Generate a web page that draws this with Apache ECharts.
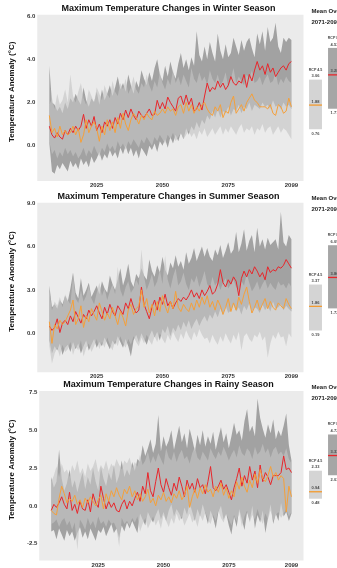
<!DOCTYPE html>
<html>
<head>
<meta charset="utf-8">
<script src="https://cdn.jsdelivr.net/npm/echarts@6/dist/echarts.min.js"></script>
<style>
  html, body { margin: 0; padding: 0; background: #ffffff; }
  #chart { width: 337px; height: 568px; }
</style>
</head>
<body>
<div id="chart"></div>
<script>
// ---- Years (x categories) ----
const years = [
  2007,2008,2009,2010,2011,2012,2013,2014,2015,2016,
  2017,2018,2019,2020,2021,2022,2023,2024,2025,2026,
  2027,2028,2029,2030,2031,2032,2033,2034,2035,2036,
  2037,2038,2039,2040,2041,2042,2043,2044,2045,2046,
  2047,2048,2049,2050,2051,2052,2053,2054,2055,2056,
  2057,2058,2059,2060,2061,2062,2063,2064,2065,2066,
  2067,2068,2069,2070,2071,2072,2073,2074,2075,2076,
  2077,2078,2079,2080,2081,2082,2083,2084,2085,2086,
  2087,2088,2089,2090,2091,2092,2093,2094,2095,2096,
  2097,2098,2099
];

// ---- Tick labels ----
const yearTicks = [2025, 2050, 2075, 2099];
const winterTicks = [0, 2, 4, 6];
const summerTicks = [0, 3, 6, 9];
const rainyTicks = [-2.5, 0, 2.5, 5, 7.5];
const rcpNames = ['RCP 4.5', 'RCP 8.5'];

// ---- Winter season ----
const winterRcp85 = [
  0.9,0.5,0.35,0.6,0.4,0.3,0.7,0.5,0.8,0.6,
  0.9,0.7,0.9,1.45,0.8,1.2,0.9,1.35,0.7,1.0,
  0.6,1.1,0.9,1.2,0.8,1.3,1.0,1.5,1.2,1.65,
  1.3,1.7,1.4,1.2,1.6,1.4,1.3,1.5,1.7,1.4,
  1.45,2.1,1.7,2.0,1.7,2.25,2.0,1.8,1.6,2.2,
  2.3,1.9,2.35,1.9,2.2,1.6,1.7,2.0,1.65,2.3,
  2.9,2.5,2.7,2.6,3.0,2.7,2.9,2.6,2.8,3.2,
  2.9,2.8,3.0,2.9,3.3,2.7,3.3,3.0,3.5,3.9,
  3.5,3.7,3.3,3.8,3.4,3.6,3.2,3.4,3.6,3.7,
  3.5,3.8,3.9
];
const winterRcp45 = [
  1.4,0.6,0.8,0.4,0.9,0.5,0.7,0.5,0.6,0.9,
  0.5,0.8,0.15,0.5,1.2,0.6,0.9,1.1,0.8,0.2,
  0.9,0.5,1.2,0.7,1.1,0.6,1.3,0.8,1.5,1.0,
  0.7,1.2,1.5,1.3,1.0,1.4,1.2,1.5,1.3,1.2,
  1.6,1.4,1.5,1.7,1.5,1.8,1.6,1.7,1.4,1.8,
  1.9,1.5,2.0,1.6,1.9,1.5,1.8,1.6,1.9,2.0,
  1.7,1.5,1.4,1.8,1.6,1.9,1.3,1.6,1.5,2.0,
  2.3,1.5,1.7,1.9,1.6,2.0,2.2,2.4,2.1,2.0,
  1.8,1.8,1.8,1.7,1.9,1.5,1.4,1.9,1.8,1.5,
  1.6,2.2,1.8
];
const winterHi85 = [
  3.7,2.0,1.9,1.6,1.8,1.5,2.0,1.7,2.2,2.0,
  2.4,2.1,1.9,2.7,2.1,1.8,2.2,2.0,2.5,1.9,
  2.6,2.1,2.4,2.8,2.3,2.7,3.2,2.6,2.9,2.5,
  3.3,2.8,2.4,3.0,2.7,3.5,3.1,2.8,3.4,3.0,
  3.6,4.0,3.3,3.0,3.7,3.2,3.9,3.4,3.1,3.8,
  4.3,3.6,4.0,3.5,4.1,3.7,5.3,4.2,3.9,4.6,
  4.0,4.8,4.3,3.9,5.2,4.4,4.0,4.7,4.1,4.3,
  5.0,4.6,4.2,4.9,4.4,4.8,5.0,4.5,4.1,5.2,
  4.7,5.3,4.4,5.5,4.8,5.0,5.7,4.6,4.3,5.0,
  4.8,5.0,4.9
];
const winterLo85 = [
  0.1,-1.2,-1.3,-0.9,-1.1,-0.8,-1.0,-1.2,-0.7,-1.0,
  -0.8,-1.1,-0.6,-0.9,-0.7,-1.0,-0.5,-0.8,-0.6,-0.3,
  -0.7,-0.4,-0.6,-0.2,-0.5,-0.3,-0.6,-0.1,-0.4,0.0,
  -0.4,-0.1,-0.5,-0.2,-0.6,-0.1,-0.3,-0.5,0.0,-0.2,
  0.1,-0.3,0.2,0.0,0.3,-0.1,0.4,0.1,0.5,0.2,
  0.6,0.3,0.8,0.5,0.9,0.7,1.1,0.8,1.2,1.0,
  1.4,1.2,1.6,1.3,1.7,1.3,1.6,1.5,1.8,1.4,
  1.7,1.6,1.9,1.5,1.8,1.7,2.0,1.6,1.9,1.8,
  1.7,2.0,1.8,1.9,1.7,2.1,1.8,1.9,1.7,2.0,
  1.8,1.9,1.7
];
const winterHi45 = [
  1.9,2.2,1.7,2.4,1.9,2.1,2.6,2.0,3.3,2.3,
  2.0,2.5,2.9,2.2,1.9,2.6,2.3,2.0,2.7,2.4,
  2.1,2.8,2.4,2.2,3.0,2.5,2.3,2.9,2.6,3.1,
  2.4,2.7,3.2,2.6,2.4,2.9,2.7,3.3,2.8,2.5,
  3.0,2.7,3.4,2.9,2.6,3.1,2.8,3.5,2.9,3.2,
  2.8,3.3,3.0,2.7,3.6,3.1,2.9,3.4,3.0,3.2,
  2.8,3.5,3.1,2.9,3.3,2.8,3.0,3.4,2.7,3.1,
  3.6,2.9,3.2,3.0,2.8,3.3,3.1,3.5,2.9,3.0,
  3.2,2.8,3.1,3.3,2.9,3.0,3.4,2.8,3.1,2.9,
  3.2,3.0,2.9
];
const winterLo45 = [
  0.2,-0.4,-0.2,-0.6,-0.3,-0.5,-0.1,-0.4,-0.2,-0.5,
  -0.3,-0.6,-0.4,-0.1,-0.5,-0.2,-0.4,0.0,-0.3,-0.5,
  -0.1,-0.3,0.1,-0.2,0.0,-0.3,0.2,-0.1,0.1,-0.2,
  0.2,0.0,0.3,0.1,-0.1,0.3,0.1,0.4,0.2,0.0,
  0.4,0.2,0.5,0.3,0.1,0.5,0.3,0.6,0.2,0.4,
  0.6,0.3,0.5,0.7,0.4,0.6,0.3,0.7,0.5,0.8,
  0.4,0.6,0.8,0.5,0.7,0.9,0.5,0.8,0.6,0.9,
  0.7,0.5,0.8,1.0,0.6,0.8,0.7,0.9,0.5,0.8,
  0.7,1.0,0.6,0.8,0.9,0.5,0.7,0.9,0.6,0.8,
  0.7,0.5,0.3
];
// 2071-2099 summary: [low, mean, high]
const winterMean45 = [0.76, 1.88, 3.06];
const winterMean85 = [1.71, 3.28, 4.53];

// ---- Summer season ----
const summerRcp85 = [
  0.5,0.2,0.4,1.0,0.05,0.7,0.9,0.6,1.2,0.8,
  1.5,1.1,0.7,1.3,1.0,1.6,1.2,1.5,1.9,1.4,
  1.0,1.8,1.3,2.0,1.5,1.2,1.9,1.6,1.3,2.1,
  1.7,2.4,1.8,1.4,1.6,3.2,2.0,1.5,1.0,1.8,
  2.3,1.6,2.5,2.0,2.7,1.9,2.2,1.7,2.1,2.4,
  2.2,2.5,2.3,2.6,3.0,2.5,2.8,2.4,3.0,2.6,
  2.9,3.3,2.7,2.9,3.4,4.4,3.5,3.2,3.7,3.4,
  3.9,3.6,2.6,3.8,4.3,3.9,4.4,4.1,4.6,4.3,
  3.9,4.2,3.7,4.6,4.2,4.4,4.3,4.6,4.5,4.7,
  5.1,4.8,4.5
];
const summerRcp45 = [
  0.8,-0.7,0.6,0.3,0.9,0.6,0.8,1.2,1.6,2.3,
  0.6,1.0,1.9,0.4,1.2,0.8,1.7,1.3,0.9,2.1,
  1.5,0.9,1.4,1.0,1.8,1.2,0.6,1.5,1.1,0.5,
  1.6,2.0,1.3,1.7,1.9,3.0,1.8,2.4,1.4,2.0,
  1.2,2.2,1.5,2.6,1.9,1.4,2.2,1.7,2.9,1.8,
  1.5,2.0,1.7,1.5,2.1,1.6,2.3,1.8,2.5,2.0,
  2.6,1.8,2.2,1.6,2.3,1.9,1.3,1.8,2.4,1.5,
  2.1,1.6,2.5,2.0,2.7,3.2,2.2,1.4,1.8,2.3,
  1.6,2.0,2.4,1.7,2.2,1.8,1.6,2.1,1.9,1.7,
  2.4,2.0,1.7
];
const summerHi85 = [
  3.3,1.8,2.0,1.7,2.3,2.0,2.6,2.2,3.1,4.2,
  2.8,2.4,3.8,2.6,3.0,3.5,2.5,2.9,3.3,2.7,
  3.6,3.1,2.8,4.0,3.4,3.0,3.7,4.5,3.3,3.9,
  4.8,3.6,3.2,4.1,3.8,4.5,4.0,3.7,5.1,4.3,
  3.9,4.7,4.2,5.3,4.4,4.0,4.9,4.5,5.4,4.6,
  5.0,4.4,5.6,4.8,5.2,5.9,5.0,5.5,6.0,5.3,
  5.9,5.3,5.0,5.8,5.4,6.1,5.2,5.7,6.3,5.5,
  5.8,7.0,5.6,6.2,7.2,5.7,6.4,6.8,5.6,7.3,
  6.0,6.5,5.8,6.6,6.1,6.3,6.5,5.8,8.4,6.3,
  6.0,6.8,6.5
];
const summerLo85 = [
  -0.5,-1.4,-0.9,-1.2,-0.7,-1.5,-1.0,-0.8,-1.3,-0.6,
  -1.1,-0.7,-1.4,-0.9,-0.5,-1.2,-0.8,-0.4,-1.0,-0.6,
  -0.9,-0.3,-0.7,-1.1,-0.5,-0.8,-0.2,-0.6,-1.0,-0.4,
  -0.9,-1.6,-0.5,-0.1,-0.6,0.0,-0.4,-0.8,-0.2,0.2,
  -0.3,0.1,-0.5,0.3,0.0,0.5,-0.2,0.4,0.1,0.6,
  0.2,0.8,0.4,0.9,0.3,0.7,1.0,0.5,0.9,1.2,
  0.8,1.3,1.0,1.5,1.1,1.7,1.3,1.9,1.4,1.6,
  2.0,1.5,1.8,1.3,1.9,1.6,2.1,1.5,1.8,1.7,
  1.4,2.0,1.6,1.9,1.5,2.2,1.7,1.8,2.0,1.6,
  1.9,1.7,1.5
];
const summerHi45 = [
  2.9,1.6,2.2,1.9,2.5,1.8,2.7,2.3,2.0,4.0,
  2.4,2.1,3.0,2.2,2.6,3.3,2.4,2.0,2.8,3.5,
  2.6,3.1,2.3,2.9,3.4,2.7,4.6,3.0,2.5,3.2,
  3.6,2.8,3.1,3.7,3.3,5.8,3.9,3.0,3.5,4.1,
  3.2,3.6,4.4,3.4,5.4,3.7,3.1,3.9,4.5,3.3,
  3.6,4.2,3.4,3.0,3.8,3.5,4.0,3.2,3.7,4.3,
  3.4,3.1,3.9,3.3,3.6,3.0,3.5,3.8,3.1,3.4,
  3.7,3.2,3.0,3.6,3.3,4.1,3.5,2.9,3.2,3.6,
  3.0,3.4,3.7,3.1,3.5,3.2,3.0,3.6,3.3,3.4,
  3.1,3.5,3.2
];
const summerLo45 = [
  -0.9,-2.1,-1.4,-1.0,-1.6,-0.8,-1.3,-1.1,-0.6,-1.5,
  -0.9,-1.2,-0.5,-1.6,-1.0,-0.7,-1.3,-0.9,-0.4,-1.1,
  -0.6,-1.0,-0.3,-0.8,-1.2,-0.5,-0.9,-0.2,-0.7,-1.0,
  -0.4,-0.8,-0.2,-0.6,-0.9,-0.3,-0.7,-0.1,-0.5,-0.8,
  -0.2,-0.6,0.0,-0.4,-0.7,-0.1,-0.5,0.1,-0.3,-0.6,
  0.0,-0.4,0.2,-0.2,-0.5,0.1,-0.3,0.3,-0.1,-0.4,
  -0.3,-0.7,-0.1,-0.5,-0.8,-0.2,-0.6,0.0,-0.4,-0.7,
  -0.1,-0.5,0.1,-1.2,-0.2,0.0,-0.4,-0.6,-0.1,-0.3,
  0.1,-0.5,-0.2,-1.7,-0.7,-0.1,-0.4,0.1,-0.3,-0.2,
  -0.9,0.0,-0.3
];
const summerMean45 = [0.19, 1.86, 3.37];
const summerMean85 = [1.72, 3.86, 6.09];

// ---- Rainy season ----
const rainyRcp85 = [
  -0.3,0.1,-0.1,0.2,0.6,0.1,-0.2,0.9,-0.3,0.1,
  -0.5,0.3,-0.2,-0.3,0.4,-0.4,0.8,0.2,-0.1,1.3,
  0.5,-0.2,0.3,-0.1,0.2,-0.3,-0.4,0.1,0.4,-0.2,
  0.3,0.0,0.5,0.9,0.3,1.3,0.8,2.2,1.0,0.6,
  1.6,2.5,1.4,0.9,1.8,1.2,0.7,1.5,1.0,1.9,
  1.3,0.6,1.7,1.1,1.5,0.9,1.8,1.2,1.4,0.8,
  1.6,2.6,1.2,1.0,1.3,1.7,1.1,1.4,0.9,0.4,
  1.2,1.8,2.5,1.3,2.0,1.5,2.6,1.7,2.3,1.2,
  2.7,1.6,2.2,1.9,1.4,2.0,2.0,2.0,2.2,3.3,
  2.4,2.5,2.2
];
const rainyRcp45 = [
  -0.3,-0.5,-0.6,0.5,1.3,0.8,0.2,0.5,0.3,0.7,
  0.1,0.4,-0.1,0.5,0.2,0.6,0.3,0.0,0.4,0.7,
  -0.2,0.8,0.3,1.0,0.6,1.2,0.7,0.4,1.1,0.8,
  1.3,0.6,1.0,0.4,0.8,0.3,0.6,1.1,0.2,0.5,
  0.0,0.7,0.4,0.9,0.3,0.6,0.2,0.8,0.5,1.0,
  0.4,0.7,1.3,-0.1,0.6,1.1,0.5,1.2,0.8,1.4,
  0.9,1.1,0.6,1.3,0.9,1.5,0.7,1.2,0.5,1.0,
  0.6,1.6,1.1,1.9,1.3,0.9,1.7,1.2,2.1,1.5,
  2.4,1.8,1.6,2.0,2.6,1.9,2.2,1.7,2.0,1.8,
  -0.4,1.3,0.6
];
const rainyHi85 = [
  1.9,1.2,1.6,3.7,1.8,1.0,1.5,2.4,1.2,1.7,
  0.9,1.6,2.2,1.1,1.9,1.4,2.5,1.6,1.0,2.6,
  1.8,1.3,2.2,1.7,2.7,1.5,2.0,3.0,1.9,2.4,
  2.0,2.9,2.3,3.1,2.9,4.0,3.3,3.8,4.4,3.5,
  4.1,6.0,3.6,4.6,3.9,4.3,5.0,3.7,4.5,5.3,
  4.2,4.8,3.8,5.1,4.4,3.6,4.7,4.0,5.0,3.9,
  4.6,4.1,4.9,3.7,4.5,5.2,4.2,4.8,3.8,4.6,
  5.5,4.7,5.0,4.3,5.6,6.4,4.9,5.3,4.6,7.1,
  5.8,5.1,4.5,5.4,4.8,5.7,4.4,5.0,4.6,5.3,
  6.1,4.0,3.0
];
const rainyLo85 = [
  -1.7,-1.6,-2.2,-1.5,-1.9,-2.3,-1.6,-2.0,-1.7,-2.3,
  -1.8,-1.4,-2.1,-1.7,-2.2,-1.5,-1.9,-2.3,-1.6,-1.8,
  -1.4,-2.0,-1.6,-1.2,-1.8,-1.5,-2.1,-1.3,-1.7,-1.1,
  -1.5,-1.0,-1.4,-1.8,-0.5,-0.9,-1.3,-0.4,-0.8,-1.1,
  -0.6,-0.2,-0.9,-0.4,-1.0,-0.3,0.1,-0.7,-0.2,-0.5,
  -0.9,-0.1,-0.6,0.2,-0.4,-1.0,-0.2,-0.7,0.1,-0.5,
  -1.2,-0.3,-0.8,-1.5,-0.4,0.0,-0.9,-0.5,-1.3,-1.9,
  -0.7,-1.4,-0.2,-0.9,-1.6,-0.4,-1.0,0.0,-1.5,-0.6,
  -1.1,-0.3,-1.8,-0.8,0.1,-1.2,-0.5,-1.0,0.2,-0.7,
  -0.4,-1.0,-0.5
];
const rainyHi45 = [
  1.6,2.0,2.6,1.9,2.8,2.2,2.4,1.9,2.7,2.3,
  3.0,2.1,2.5,1.9,2.8,2.3,2.6,3.1,2.2,2.7,
  2.4,3.0,2.3,2.8,2.5,3.1,2.7,2.4,3.0,2.8,
  3.2,2.5,2.9,2.6,3.4,2.7,3.0,3.6,2.8,3.3,
  2.9,3.5,3.1,2.7,3.8,3.2,3.0,3.6,2.9,3.4,
  3.7,3.1,3.3,2.8,3.5,3.9,3.2,3.0,3.6,3.3,
  3.0,3.8,3.4,3.1,3.6,3.3,3.9,3.5,3.0,3.4,
  3.7,3.2,4.0,3.5,3.3,3.8,3.6,3.1,3.9,3.4,
  3.6,4.1,3.5,3.8,3.2,3.7,3.9,3.4,3.6,3.3,
  3.8,3.1,2.8
];
const rainyLo45 = [
  -1.2,-1.1,-0.9,-1.4,-1.0,-0.8,-1.3,-1.0,-1.6,-1.1,
  -2.9,-0.9,-1.2,-1.6,-0.8,-1.3,-1.0,-1.5,-0.7,-1.2,
  -1.0,-1.4,-0.9,-1.2,-1.1,-1.5,-2.7,-0.8,-1.2,-1.0,
  -1.3,-0.8,-1.1,-0.7,-1.7,-1.2,-0.8,-1.5,-1.1,-0.7,
  -1.3,-0.9,-1.5,-0.6,-1.0,-1.4,-0.8,-1.2,-0.5,-1.0,
  -0.7,-1.3,-0.9,-0.5,-1.1,-0.8,-1.4,-0.6,-1.0,-0.4,
  -0.9,-1.2,-0.6,-1.0,-0.3,-0.8,-1.1,-0.5,-0.9,-1.3,
  -0.6,-1.0,-0.4,-1.4,-0.7,-0.3,-1.1,-0.6,-0.9,-0.2,
  -0.8,-1.2,-0.5,-0.9,-0.3,-1.0,-0.6,-0.4,-0.8,-0.5,
  -0.2,-0.7,-0.4
];
const rainyMean45 = [0.48, 0.94, 2.33];
const rainyMean85 = [2.03, 3.33, 4.72];

// ---- Panel setup ----
const FONT = '"Liberation Sans", Arial, Helvetica, sans-serif';
const panels = [
  { title: 'Maximum Temperature Changes in Winter Season', ticks: winterTicks,
    r85: winterRcp85, r45: winterRcp45, hi85: winterHi85, lo85: winterLo85, hi45: winterHi45, lo45: winterLo45,
    m45: winterMean45, m85: winterMean85,
    top: 14.7, bottom: 181, ymin: -1.64, ymax: 6.07, titleY: 8.3, meanY: 11, periodY: 22 },
  { title: 'Maximum Temperature Changes in Summer Season', ticks: summerTicks,
    r85: summerRcp85, r45: summerRcp45, hi85: summerHi85, lo85: summerLo85, hi45: summerHi45, lo45: summerLo45,
    m45: summerMean45, m85: summerMean85,
    top: 202.7, bottom: 372.3, ymin: -2.70, ymax: 9.03, titleY: 196.3, meanY: 198, periodY: 209 },
  { title: 'Maximum Temperature Changes in Rainy Season', ticks: rainyTicks,
    r85: rainyRcp85, r45: rainyRcp45, hi85: rainyHi85, lo85: rainyLo85, hi45: rainyHi45, lo45: rainyLo45,
    m45: rainyMean45, m85: rainyMean85,
    top: 391, bottom: 560.7, ymin: -3.61, ymax: 7.59, titleY: 384.7, meanY: 387, periodY: 398 }
];

const pairs = arr => years.map((y, i) => [y, arr[i]]);
const ranges = (lo, hi) => years.map((y, i) => [y, lo[i], hi[i]]);

// Range band: one polygon through every [year, low, high] row, mapped by the axes.
function bandRender(fill) {
  return function (params, api) {
    if (params.dataIndexInside !== 0) return null;
    const n = params.dataInsideLength;
    const upper = [], lower = [];
    for (let i = 0; i < n; i++) {
      const x = api.value(0, i);
      upper.push(api.coord([x, api.value(2, i)]));
      lower.push(api.coord([x, api.value(1, i)]));
    }
    return { type: 'polygon', shape: { points: upper.concat(lower.reverse()) },
             style: { fill: fill } };
  };
}

// Summary box for 2071-2099: [slot, low, mean, high]
function boxRender(params, api) {
  const slot = api.value(0);
  const lo = api.value(1), mid = api.value(2), hi = api.value(3);
  const pLo = api.coord([slot, lo]);
  const pMid = api.coord([slot, mid]);
  const pHi = api.coord([slot, hi]);
  const w = api.size([1, 0])[0] * 0.68;
  const x0 = pLo[0] - w / 2;
  const idx = params.dataIndex;
  const txt = (text, y, size) => ({
    type: 'text', x: pLo[0], y: y,
    style: { text: text, fill: '#4a4a4a', fontSize: size, fontWeight: 'bold',
             fontFamily: FONT, align: 'center', verticalAlign: 'middle' }
  });
  return {
    type: 'group',
    children: [
      { type: 'rect', shape: { x: x0, y: pHi[1], width: w, height: pLo[1] - pHi[1] },
        style: { fill: idx === 0 ? '#d4d4d4' : '#a6a6a6' } },
      { type: 'line', shape: { x1: x0, y1: pMid[1], x2: x0 + w, y2: pMid[1] },
        style: { stroke: idx === 0 ? '#f39a2e' : '#e8262b', lineWidth: 1.3 } },
      txt(rcpNames[idx], pHi[1] - 10, 3.6),
      txt(hi.toFixed(2), pHi[1] - 3.5, 4),
      txt(mid.toFixed(2), pMid[1] - 3.5, 4),
      txt(lo.toFixed(2), pLo[1] + 4.5, 4)
    ]
  };
}

const titles = [], grids = [], xAxes = [], yAxes = [], series = [];

panels.forEach((p, k) => {
  const g = k * 2;       // main plot
  const s = k * 2 + 1;   // side summary
  const h = p.bottom - p.top;

  titles.push({
    text: p.title, left: 'center', top: p.titleY - 5, padding: 0,
    textStyle: { fontSize: 9, fontWeight: 'bold', color: '#111', fontFamily: FONT, lineHeight: 10 }
  });
  titles.push({
    text: 'Mean Over', left: 311.5, top: p.meanY - 3.5, padding: 0,
    textStyle: { fontSize: 6, fontWeight: 'bold', color: '#222', fontFamily: FONT, lineHeight: 7 }
  });
  titles.push({
    text: '2071-2099', left: 311.5, top: p.periodY - 3.5, padding: 0,
    textStyle: { fontSize: 6, fontWeight: 'bold', color: '#222', fontFamily: FONT, lineHeight: 7 }
  });

  grids.push({ left: 33.5, width: 270, top: p.top, height: h, show: true,
               backgroundColor: '#ebebeb', borderWidth: 0, z: 0 });
  // side panel runs to the right edge; its x scale is 19 px per slot
  grids.push({ left: 306, right: 0, top: p.top, height: h, show: false });

  xAxes.push({
    type: 'value', gridIndex: g, min: 2002.4, max: 2103.6,
    axisLine: { show: false }, axisTick: { show: false }, splitLine: { show: false },
    axisLabel: { customValues: yearTicks, fontSize: 6, fontWeight: 'bold', color: '#333',
                 fontFamily: FONT, margin: 1.5, formatter: v => String(v) }
  });
  xAxes.push({ type: 'value', gridIndex: s, min: 0, max: 31 / 19, show: false });

  yAxes.push({
    type: 'value', gridIndex: g, min: p.ymin, max: p.ymax,
    axisLine: { show: false }, axisTick: { show: false }, splitLine: { show: false },
    axisLabel: { customValues: p.ticks, fontSize: 6, fontWeight: 'bold', color: '#333',
                 fontFamily: FONT, margin: 2, formatter: v => v.toFixed(1) },
    name: 'Temperature Anomaly (°C)', nameLocation: 'middle', nameGap: 16,
    nameTextStyle: { fontSize: 8, fontWeight: 'bold', color: '#111', fontFamily: FONT,
                     padding: [0, 0, 0, 12] }
  });
  yAxes.push({ type: 'value', gridIndex: s, min: p.ymin, max: p.ymax, show: false });

  // RCP 8.5 range band, with the translucent RCP 4.5 band laid over it
  series.push({ type: 'custom', xAxisIndex: g, yAxisIndex: g, silent: true, animation: false,
    clip: true, renderItem: bandRender('#a2a2a2'), data: ranges(p.lo85, p.hi85), z: 2 });
  series.push({ type: 'custom', xAxisIndex: g, yAxisIndex: g, silent: true, animation: false,
    clip: true, renderItem: bandRender('rgba(197,197,197,0.63)'), data: ranges(p.lo45, p.hi45), z: 2 });
  // ensemble means
  series.push({ type: 'line', xAxisIndex: g, yAxisIndex: g, symbol: 'none', silent: true,
    animation: false, data: pairs(p.r85), lineStyle: { color: '#e8262b', width: 1 }, z: 3 });
  series.push({ type: 'line', xAxisIndex: g, yAxisIndex: g, symbol: 'none', silent: true,
    animation: false, data: pairs(p.r45), lineStyle: { color: '#f5a03a', width: 1 }, z: 4 });
  // 2071-2099 summary boxes
  series.push({ type: 'custom', xAxisIndex: s, yAxisIndex: s, silent: true, animation: false,
    clip: false, renderItem: boxRender,
    data: [[0.5].concat(p.m45), [1.5].concat(p.m85)], z: 5 });
});

const chart = echarts.init(document.getElementById('chart'), null, { renderer: 'canvas' });
chart.setOption({
  backgroundColor: '#ffffff',
  animation: false,
  title: titles,
  grid: grids,
  xAxis: xAxes,
  yAxis: yAxes,
  series: series
});
</script>
</body>
</html>
